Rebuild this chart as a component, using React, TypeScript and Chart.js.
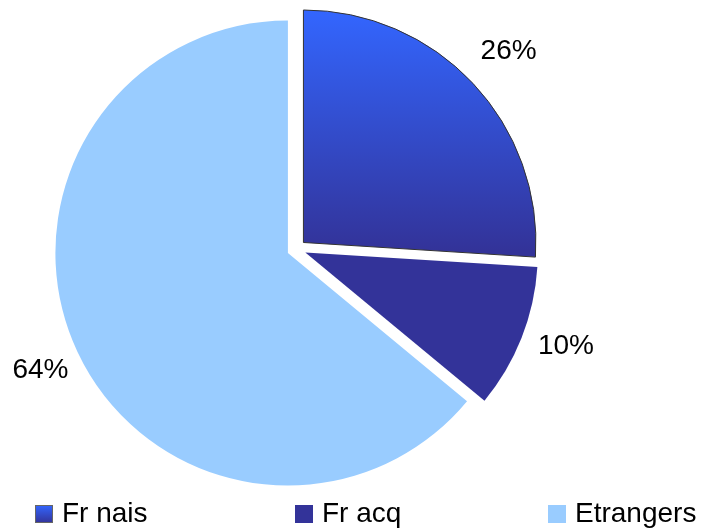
import React, { useEffect, useRef } from "react";
import { Chart, registerables } from "chart.js";

Chart.register(...registerables);

const categories = ["Fr nais", "Fr acq", "Etrangers"];
const shares = [26, 10, 64];
const percentLabels = ["26%", "10%", "64%"];

const FONT = '28px "Liberation Sans", Arial, sans-serif';
const SLICE_SHIFT = 9.5;
const PIE_RADIUS = 232.5;
const LABEL_DIST = [291, 286, 283];
const LABEL_NUDGE_DEG = [0, -2, 0];
const LEGEND_X = [35, 295, 548];
const LEGEND_Y = 505;
const BOX = 18;

function gradientFill(ctx: CanvasRenderingContext2D, y0: number, y1: number) {
  const g = ctx.createLinearGradient(0, y0, 0, y1);
  g.addColorStop(0, "#3366FF");
  g.addColorStop(1, "#333399");
  return g;
}

function pieCenter(chart: any) {
  const a = chart.chartArea;
  return { cx: (a.left + a.right) / 2, cy: (a.top + a.bottom) / 2 };
}

const explodePlugin = {
  id: "explodeSlices",
  afterDatasetUpdate(chart: any, args: any) {
    const { cx, cy } = pieCenter(chart);
    args.meta.data.forEach((arc: any) => {
      const mid = (arc.startAngle + arc.endAngle) / 2;
      arc.x = cx + Math.cos(mid) * SLICE_SHIFT;
      arc.y = cy + Math.sin(mid) * SLICE_SHIFT;
    });
  },
};

const labelPlugin = {
  id: "sliceLabels",
  afterDatasetsDraw(chart: any) {
    const ctx = chart.ctx as CanvasRenderingContext2D;
    const meta = chart.getDatasetMeta(0);
    const { cx, cy } = pieCenter(chart);
    ctx.save();
    ctx.font = FONT;
    ctx.fillStyle = "#000";
    ctx.textAlign = "center";
    ctx.textBaseline = "middle";
    meta.data.forEach((arc: any, i: number) => {
      const mid = (arc.startAngle + arc.endAngle) / 2 + (LABEL_NUDGE_DEG[i] * Math.PI) / 180;
      const x = cx + Math.cos(mid) * LABEL_DIST[i];
      const y = cy + Math.sin(mid) * LABEL_DIST[i];
      ctx.fillText(percentLabels[i], x, y + 1);
    });
    ctx.restore();
  },
  afterDraw(chart: any) {
    const ctx = chart.ctx as CanvasRenderingContext2D;
    ctx.save();
    ctx.font = FONT;
    ctx.textAlign = "left";
    ctx.textBaseline = "alphabetic";
    categories.forEach((name, i) => {
      const x = LEGEND_X[i];
      if (i === 0) {
        ctx.fillStyle = gradientFill(ctx, LEGEND_Y, LEGEND_Y + BOX);
      } else {
        ctx.fillStyle = i === 1 ? "#333399" : "#99CCFF";
      }
      ctx.fillRect(x, LEGEND_Y, BOX, BOX);
      if (i === 0) {
        ctx.strokeStyle = "#666";
        ctx.lineWidth = 1;
        ctx.strokeRect(x + 0.5, LEGEND_Y + 0.5, BOX - 1, BOX - 1);
      }
      ctx.fillStyle = "#000";
      ctx.fillText(name, x + BOX + 9, LEGEND_Y + 17);
    });
    ctx.restore();
  },
};

export default function App() {
  const ref = useRef<HTMLCanvasElement | null>(null);
  useEffect(() => {
    if (!ref.current) return;
    const chart = new Chart(ref.current, {
      type: "pie",
      data: {
        labels: categories,
        datasets: [
          {
            data: shares,
            backgroundColor: (c: any) => {
              if (c.dataIndex === 0) {
                return gradientFill(c.chart.ctx, 9, 250);
              }
              return c.dataIndex === 1 ? "#333399" : "#99CCFF";
            },
            borderColor: ["#333333", "#333399", "#99CCFF"],
            borderWidth: [1, 0, 0],
            offset: 0,
            hoverOffset: 0,
            radius: PIE_RADIUS,
          } as any,
        ],
      },
      options: {
        responsive: false,
        animation: false,
        layout: { padding: { left: 0, right: 112, top: 0, bottom: 31 } },
        plugins: {
          legend: { display: false },
          tooltip: { enabled: false },
        },
        events: [],
      },
      plugins: [explodePlugin, labelPlugin],
    });
    return () => chart.destroy();
  }, []);
  return (
    <div style={{ position: "fixed", left: 0, top: 0, width: 705, height: 529, background: "#fff" }}>
      <canvas ref={ref} width={705} height={529} />
    </div>
  );
}
